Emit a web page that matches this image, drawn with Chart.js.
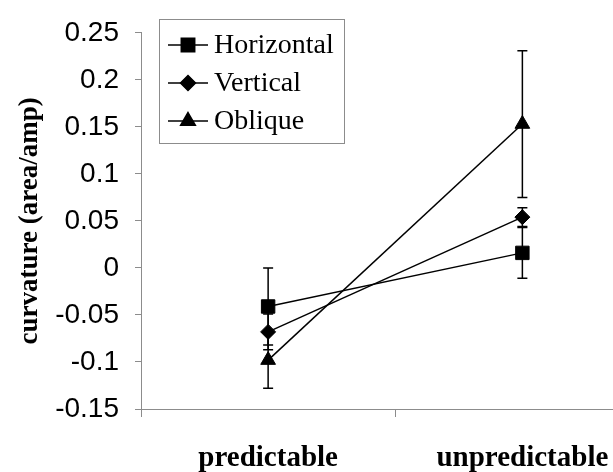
<!DOCTYPE html>
<html>
<head>
<meta charset="utf-8">
<script src="https://cdn.jsdelivr.net/npm/chart.js@4"></script>
<style>
  html, body { margin: 0; padding: 0; background: #fff; }
  #wrap { width: 613px; height: 472px; overflow: hidden; position: relative; }
  #curveChart { display: block; }
</style>
</head>
<body>
<div id="wrap">
  <canvas id="curveChart" width="660" height="472" style="width:660px;height:472px"></canvas>
</div>
<script>
// Data
const categories = ['predictable', 'unpredictable'];
const horizontal = [-0.041, 0.016];
const horizontalErr = [0.041, 0.027];
const vertical = [-0.068, 0.054];
const verticalErr = [0.019, 0.010];
const oblique = [-0.098, 0.153];
const obliqueErr = [0.030, 0.078];
const yTickLabels = ['-0.15', '-0.1', '-0.05', '0', '0.05', '0.1', '0.15', '0.2', '0.25'];

const axisGrey = '#8c8c8c';

// error bars, drawn under the markers
const errorBars = {
    id: 'errorBars',
    beforeDatasetsDraw(chart) {
        const ctx = chart.ctx;
        const y = chart.scales.y;
        ctx.save();
        ctx.strokeStyle = '#000';
        ctx.lineWidth = 1.5;
        chart.data.datasets.forEach((ds, i) => {
            const meta = chart.getDatasetMeta(i);
            meta.data.forEach((pt, j) => {
                const v = ds.data[j];
                const e = ds.errors[j];
                const top = y.getPixelForValue(v + e);
                const bot = y.getPixelForValue(v - e);
                ctx.beginPath();
                ctx.moveTo(pt.x, top);
                ctx.lineTo(pt.x, bot);
                ctx.moveTo(pt.x - 5, top);
                ctx.lineTo(pt.x + 5, top);
                ctx.moveTo(pt.x - 5, bot);
                ctx.lineTo(pt.x + 5, bot);
                ctx.stroke();
            });
        });
        ctx.restore();
    }
};

// boxed legend inside the plot
const boxLegend = {
    id: 'boxLegend',
    afterDraw(chart) {
        const ctx = chart.ctx;
        ctx.save();
        ctx.strokeStyle = axisGrey;
        ctx.lineWidth = 1;
        ctx.strokeRect(159.5, 19.5, 185, 124);
        ctx.font = '28px "Liberation Serif", "Times New Roman", serif';
        ctx.textBaseline = 'middle';
        ctx.fillStyle = '#000';
        const rows = [45, 83, 121];
        chart.data.datasets.forEach((ds, i) => {
            const yy = rows[i];
            ctx.strokeStyle = '#000';
            ctx.lineWidth = 1.5;
            ctx.beginPath();
            ctx.moveTo(168, yy);
            ctx.lineTo(208, yy);
            ctx.stroke();
            Chart.helpers.drawPoint(ctx, {
                pointStyle: ds.pointStyle,
                radius: ds.pointRadius,
                borderWidth: 1
            }, 188, yy);
            ctx.fillStyle = '#000';
            ctx.fill();
            ctx.fillText(ds.label, 214, yy + 1);
        });
        ctx.restore();
    }
};

function series(label, values, errs, style, radius) {
    return {
        label: label,
        data: values,
        errors: errs,
        borderColor: '#000',
        backgroundColor: '#000',
        borderWidth: 1.5,
        pointStyle: style,
        pointRadius: radius,
        pointHoverRadius: radius,
        pointBorderWidth: 1,
        tension: 0
    };
}

const config = {
    type: 'line',
    data: {
        labels: categories,
        datasets: [
            series('Horizontal', horizontal, horizontalErr, 'rect', 9.5),
            series('Vertical', vertical, verticalErr, 'rectRot', 7.5),
            series('Oblique', oblique, obliqueErr, 'triangle', 8.5)
        ]
    },
    options: {
        responsive: false,
        animation: false,
        layout: { padding: { top: 22, right: 9, bottom: 0, left: 0 } },
        plugins: {
            legend: { display: false },
            tooltip: { enabled: false }
        },
        scales: {
            x: {
                type: 'category',
                offset: true,
                grid: {
                    offset: true,
                    drawOnChartArea: false,
                    tickLength: 8,
                    color: axisGrey
                },
                border: { color: axisGrey, width: 1 },
                ticks: {
                    color: '#000',
                    padding: 24,
                    font: { family: '"Liberation Serif", "Times New Roman", serif', size: 29, weight: 'bold' }
                },
                afterFit(scale) { scale.height = 63; }
            },
            y: {
                min: -0.15,
                max: 0.25,
                ticks: {
                    stepSize: 0.05,
                    color: '#000',
                    padding: 16,
                    font: { family: '"Liberation Sans", Arial, sans-serif', size: 28 },
                    callback: (v, i) => yTickLabels[i]
                },
                grid: {
                    drawOnChartArea: false,
                    tickLength: 6,
                    color: axisGrey
                },
                border: { color: axisGrey, width: 1 },
                title: {
                    display: true,
                    text: 'curvature (area/amp)',
                    color: '#000',
                    padding: { top: 14, bottom: 0 },
                    font: { family: '"Liberation Serif", "Times New Roman", serif', size: 27, weight: 'bold' }
                },
                afterFit(scale) { scale.width = 141; }
            }
        }
    },
    plugins: [errorBars, boxLegend]
};

const curveChart = new Chart(document.getElementById('curveChart'), config);
</script>
</body>
</html>
